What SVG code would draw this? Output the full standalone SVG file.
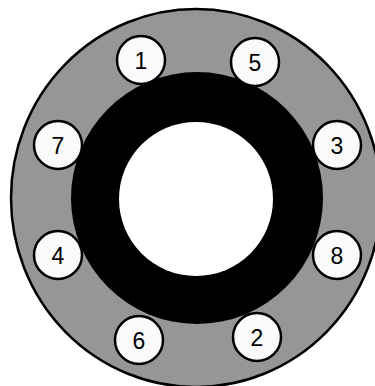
<svg xmlns="http://www.w3.org/2000/svg" width="375" height="386" viewBox="0 0 375 386">
<style>
.num circle{fill:#fafafa;stroke:#000;stroke-width:2.5}
.num text{font-family:"Liberation Sans",Arial,sans-serif;font-size:23px;fill:#000;text-anchor:middle;dominant-baseline:central}
</style>
<rect width="375" height="386" fill="#fff"/>
<g id="disc">
<ellipse cx="196" cy="198" rx="185" ry="189" fill="#969696" stroke="#000" stroke-width="2.5"/>
<circle cx="197" cy="198" r="126" fill="#000"/>
<circle cx="196" cy="199" r="77" fill="#fff"/>
</g>
<g id="connectors"/>
<g id="n1" class="num"><circle cx="141" cy="60" r="24"/><text x="141" y="61">1</text></g>
<g id="n5" class="num"><circle cx="255" cy="62" r="24"/><text x="255" y="63">5</text></g>
<g id="n7" class="num"><circle cx="58" cy="145" r="24"/><text x="58" y="146">7</text></g>
<g id="n3" class="num"><circle cx="337" cy="145" r="24"/><text x="337" y="146">3</text></g>
<g id="n4" class="num"><circle cx="58" cy="255" r="24"/><text x="58" y="256">4</text></g>
<g id="n8" class="num"><circle cx="337" cy="255" r="24"/><text x="337" y="256">8</text></g>
<g id="n6" class="num"><circle cx="139" cy="340" r="24"/><text x="139" y="341">6</text></g>
<g id="n2" class="num"><circle cx="257" cy="337" r="24"/><text x="257" y="338">2</text></g>
</svg>
